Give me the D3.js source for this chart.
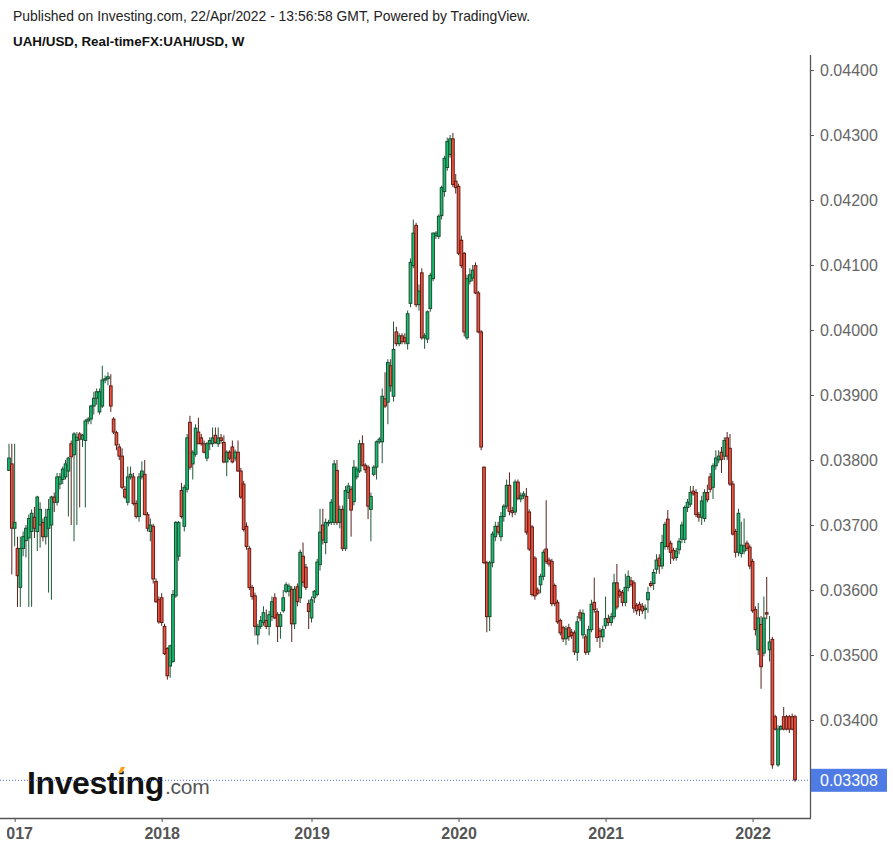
<!DOCTYPE html>
<html><head><meta charset="utf-8">
<script src="https://cdn.jsdelivr.net/npm/d3@7"></script>
<style>body{margin:0;background:#fff}svg{display:block}</style>
</head><body><svg id="c" width="893" height="851"></svg>
<script>
// Weekly UAH/USD candles, values in units of 0.00001 USD (e.g. 3784 = 0.03784)
const UNIT = 1e-5;
const openV = [3784,3794,3695,3664,3604,3664,3676,3680,3690,3712,3690,3700,3704,3682,3695,3700,3743,3735,3763,3770,3774,3783,3825,3808,3830,3840,3832,3830,3860,3863,3883,3895,3874,3883,3923,3925,3914,3863,3842,3820,3806,3755,3735,3774,3774,3733,3713,3774,3778,3716,3690,3698,3613,3585,3588,3544,3510,3483,3490,3591,3652,3753,3698,3755,3858,3794,3809,3843,3834,3825,3803,3825,3825,3838,3825,3834,3827,3797,3812,3820,3803,3812,3783,3763,3698,3664,3604,3591,3531,3544,3550,3553,3544,3559,3588,3562,3544,3568,3598,3598,3601,3548,3605,3588,3652,3635,3579,3557,3588,3593,3639,3700,3673,3704,3704,3704,3784,3704,3724,3664,3750,3755,3736,3774,3783,3825,3792,3789,3724,3778,3789,3828,3828,3894,3889,3945,3898,3997,3979,3991,3988,3979,4041,4099,4161,4039,4088,3988,3986,4033,4079,4145,4144,4176,4213,4250,4270,4294,4229,4221,4138,4118,3988,4075,4080,4099,4057,3997,3789,3642,3559,3642,3682,3698,3682,3713,3729,3761,3722,3720,3766,3740,3745,3744,3720,3697,3649,3600,3608,3621,3663,3646,3644,3607,3581,3553,3542,3525,3542,3535,3534,3504,3565,3531,3528,3505,3539,3581,3567,3537,3528,3545,3556,3550,3559,3611,3598,3596,3581,3604,3614,3611,3576,3578,3575,3570,3585,3610,3610,3632,3649,3637,3667,3709,3672,3661,3650,3662,3678,3678,3727,3732,3752,3750,3716,3712,3710,3750,3774,3758,3791,3800,3812,3806,3834,3818,3763,3690,3658,3656,3660,3672,3666,3644,3570,3508,3547,3503,3565,3508,3524,3405,3331,3386,3405,3405,3405,3405,3405];
const highV = [3825,3825,3825,3682,3682,3690,3700,3716,3724,3728,3745,3735,3710,3725,3740,3745,3750,3780,3780,3790,3800,3805,3830,3843,3843,3843,3840,3863,3866,3885,3905,3910,3910,3945,3930,3935,3932,3866,3845,3825,3818,3760,3790,3790,3780,3738,3780,3798,3800,3720,3710,3702,3618,3590,3595,3548,3512,3516,3600,3706,3706,3765,3762,3840,3868,3815,3855,3865,3840,3830,3828,3835,3850,3850,3850,3840,3838,3815,3815,3830,3816,3830,3788,3768,3704,3668,3608,3596,3548,3560,3575,3570,3568,3590,3595,3566,3566,3600,3612,3610,3606,3606,3610,3662,3673,3640,3585,3590,3600,3648,3725,3725,3710,3708,3740,3800,3800,3730,3730,3760,3765,3760,3800,3790,3831,3838,3795,3792,3750,3792,3830,3835,3910,3935,3955,3955,4013,4005,3995,3995,3995,4030,4110,4170,4165,4070,4095,3995,4030,4088,4150,4152,4178,4222,4268,4296,4300,4303,4240,4225,4145,4120,4085,4095,4100,4104,4060,4000,3790,3645,3645,3690,3705,3705,3720,3732,3770,3781,3728,3770,3770,3750,3752,3757,3724,3700,3652,3604,3625,3662,3738,3650,3648,3610,3585,3556,3545,3545,3548,3540,3538,3560,3570,3570,3532,3545,3585,3619,3572,3542,3545,3590,3562,3565,3625,3640,3602,3600,3625,3630,3620,3615,3580,3582,3580,3578,3605,3614,3632,3655,3655,3685,3705,3723,3676,3665,3665,3680,3705,3730,3740,3760,3760,3755,3720,3745,3755,3762,3780,3795,3815,3815,3820,3835,3843,3840,3768,3694,3725,3705,3710,3676,3670,3648,3575,3580,3560,3590,3620,3560,3528,3408,3392,3392,3420,3408,3408,3410,3408];
const lowV = [3784,3624,3667,3574,3574,3652,3650,3574,3574,3680,3660,3665,3675,3670,3596,3585,3720,3730,3755,3763,3770,3713,3700,3675,3700,3727,3820,3727,3855,3855,3870,3885,3870,3880,3918,3915,3874,3840,3815,3800,3755,3740,3730,3770,3730,3710,3705,3770,3715,3690,3675,3610,3580,3548,3545,3500,3462,3465,3488,3588,3645,3710,3690,3750,3785,3770,3805,3825,3822,3810,3798,3815,3820,3825,3820,3825,3795,3775,3800,3795,3798,3782,3740,3690,3662,3600,3585,3530,3516,3540,3545,3540,3530,3552,3555,3520,3525,3565,3595,3590,3520,3540,3575,3580,3605,3600,3540,3550,3580,3590,3630,3670,3655,3698,3700,3700,3700,3695,3660,3660,3740,3682,3730,3770,3780,3790,3780,3709,3675,3775,3770,3825,3795,3880,3855,3905,3890,3975,3975,3978,3978,3970,4035,4095,4035,4030,3985,3971,3980,4028,4075,4140,4140,4170,4205,4245,4265,4220,4210,4115,4095,3990,3985,4070,4075,4055,3995,3815,3640,3535,3537,3635,3675,3685,3675,3705,3725,3715,3712,3715,3738,3735,3740,3685,3660,3590,3585,3592,3595,3615,3640,3636,3575,3575,3548,3530,3520,3515,3522,3525,3500,3491,3552,3525,3500,3500,3535,3565,3520,3511,3520,3540,3545,3545,3555,3570,3588,3575,3575,3598,3605,3565,3562,3560,3563,3555,3565,3604,3600,3625,3625,3632,3662,3662,3640,3645,3645,3655,3672,3672,3720,3728,3745,3712,3705,3700,3705,3735,3750,3740,3785,3795,3780,3800,3800,3760,3684,3650,3652,3650,3655,3660,3632,3565,3530,3500,3448,3498,3555,3490,3325,3384,3328,3384,3384,3384,3380,3384,3305];
const closeV = [3803,3695,3704,3622,3664,3682,3695,3710,3718,3695,3743,3724,3682,3712,3724,3743,3735,3774,3774,3786,3794,3803,3805,3840,3835,3832,3838,3860,3863,3883,3895,3905,3905,3923,3925,3928,3883,3843,3823,3806,3758,3743,3774,3778,3733,3713,3774,3783,3716,3695,3700,3617,3582,3551,3550,3502,3468,3514,3593,3704,3704,3713,3758,3834,3789,3812,3849,3825,3825,3812,3825,3830,3834,3827,3834,3830,3797,3812,3803,3797,3812,3783,3743,3693,3667,3604,3590,3544,3544,3553,3565,3544,3562,3582,3557,3544,3562,3588,3608,3606,3548,3601,3582,3658,3612,3604,3567,3585,3598,3643,3689,3677,3704,3704,3735,3794,3704,3724,3664,3753,3760,3723,3789,3786,3825,3792,3785,3729,3744,3789,3828,3832,3898,3883,3950,3914,3970,3979,3991,3982,3982,4025,4104,4149,4039,4060,3988,3991,4028,4084,4149,4149,4175,4219,4264,4290,4294,4224,4219,4118,4099,3997,4079,4085,4092,4057,3997,3820,3642,3559,3642,3686,3698,3689,3713,3729,3761,3721,3719,3766,3741,3745,3748,3689,3663,3593,3591,3595,3621,3658,3644,3640,3579,3579,3551,3534,3525,3540,3528,3530,3505,3551,3557,3564,3504,3539,3578,3570,3527,3528,3539,3556,3550,3559,3611,3574,3592,3581,3604,3621,3608,3572,3568,3570,3568,3572,3596,3607,3627,3646,3637,3673,3701,3667,3658,3649,3660,3675,3700,3727,3735,3750,3748,3716,3712,3737,3750,3739,3755,3791,3803,3806,3801,3830,3806,3763,3686,3658,3718,3669,3668,3664,3637,3568,3539,3557,3482,3557,3563,3520,3331,3386,3386,3390,3386,3386,3386,3386,3308];

const firstWeekStart = "2016-12-19";          // Monday of first weekly bar
const yearTickIndex = [2, 54, 107, 159, 211, 263];
const yearLabels = ["2017", "2018", "2019", "2020", "2021", "2022"];
const priceTicks = [0.034, 0.035, 0.036, 0.037, 0.038, 0.039, 0.040, 0.041, 0.042, 0.043, 0.044];
const lastPrice = 0.03308;

const data = openV.map((o, i) => ({
  i, o: o * UNIT, h: highV[i] * UNIT, l: lowV[i] * UNIT, c: closeV[i] * UNIT
}));

const svg = d3.select("#c");
const W = 893, H = 851;
const plotRight = 810, plotBottom = 818, plotTop = 55;

const x = d3.scaleLinear().domain([0, data.length - 1]).range([9, 795]);
const y = d3.scaleLinear().domain([0.034, 0.044]).range([720, 70]);

svg.append("rect").attr("width", W).attr("height", H).attr("fill", "#fff");

// header
svg.append("text").attr("x", 13).attr("y", 21)
  .attr("font-family", "Liberation Sans, Arial, sans-serif").attr("font-size", 13.9)
  .attr("fill", "#222")
  .text("Published on Investing.com, 22/Apr/2022 - 13:56:58 GMT, Powered by TradingView.");
svg.append("text").attr("x", 13).attr("y", 46)
  .attr("font-family", "Liberation Sans, Arial, sans-serif").attr("font-size", 13.4)
  .attr("font-weight", "bold").attr("fill", "#111")
  .text("UAH/USD, Real-timeFX:UAH/USD, W");

// clip for plot
svg.append("clipPath").attr("id", "pc").append("rect")
  .attr("x", 0).attr("y", plotTop).attr("width", plotRight).attr("height", plotBottom - plotTop);

// logo
const logo = svg.append("g");
const inv = logo.append("text").attr("x", 27).attr("y", 794)
  .attr("font-family", "Liberation Sans, Arial, sans-serif").attr("font-size", 32)
  .attr("font-weight", "bold").attr("fill", "#111").attr("letter-spacing", -0.4)
  .text("Investing");
const invLen = inv.node().getComputedTextLength();
logo.append("text").attr("x", 27 + invLen + 1).attr("y", 794)
  .attr("font-family", "Liberation Sans, Arial, sans-serif").attr("font-size", 21)
  .attr("fill", "#555").attr("letter-spacing", -0.2).text(".com");
try {
  const ext = inv.node().getExtentOfChar(6);
  logo.append("path")
    .attr("d", `M${ext.x + 1},${ext.y + 8} L${ext.x + 4},${ext.y + 2} L${ext.x + 8},${ext.y + 2} L${ext.x + 5},${ext.y + 8} Z`)
    .attr("fill", "#f7a21b");
} catch (e) {}

// last price dotted line
svg.append("line").attr("x1", 0).attr("x2", plotRight).attr("y1", y(lastPrice) + 0.5).attr("y2", y(lastPrice) + 0.5)
  .attr("stroke", "#4a6fe3").attr("stroke-width", 1).attr("stroke-dasharray", "1,2");

// candles
const g = svg.append("g").attr("clip-path", "url(#pc)");
const up = d => d.c >= d.o;
g.selectAll("line.w").data(data).join("line").attr("class", "w")
  .attr("x1", d => x(d.i)).attr("x2", d => x(d.i))
  .attr("y1", d => y(d.h)).attr("y2", d => y(d.l))
  .attr("stroke", d => up(d) ? "#1f5a3a" : "#5a231d").attr("stroke-width", 1);
const bw = 2.7;
g.selectAll("rect.b").data(data).join("rect").attr("class", "b")
  .attr("x", d => x(d.i) - bw / 2)
  .attr("y", d => y(Math.max(d.o, d.c)))
  .attr("width", bw)
  .attr("height", d => Math.max(0.8, Math.abs(y(d.o) - y(d.c))))
  .attr("fill", d => up(d) ? "#14c072" : "#ef5441")
  .attr("stroke", d => up(d) ? "#1d4a30" : "#5e1c16")
  .attr("stroke-width", 1);

// axes lines
svg.append("line").attr("x1", plotRight + 0.5).attr("x2", plotRight + 0.5).attr("y1", plotTop).attr("y2", plotBottom)
  .attr("stroke", "#555").attr("stroke-width", 1.3);
svg.append("line").attr("x1", 0).attr("x2", plotRight + 1).attr("y1", plotBottom + 0.5).attr("y2", plotBottom + 0.5)
  .attr("stroke", "#555").attr("stroke-width", 1.3);

// right axis
const yAxis = d3.axisRight(y).tickValues(priceTicks).tickFormat(d3.format(".5f")).tickSize(4).tickPadding(6);
const ya = svg.append("g").attr("transform", `translate(${plotRight},0)`).call(yAxis);
ya.select(".domain").remove();
ya.selectAll(".tick line").attr("stroke", "#555");
ya.selectAll(".tick text").attr("font-family", "Liberation Sans, Arial, sans-serif")
  .attr("font-size", 16).attr("fill", "#666");

// bottom axis; the time scale starts just left of 2017, so that label is cut at the edge as in the source
svg.append("clipPath").attr("id", "xc").append("rect").attr("x", 7).attr("y", 800).attr("width", 886).attr("height", 51);
const xAxis = d3.axisBottom(x).tickValues(yearTickIndex).tickFormat((d, k) => yearLabels[k]).tickSize(4).tickPadding(6);
const xwrap = svg.append("g").attr("clip-path", "url(#xc)");
const xa = xwrap.append("g").attr("transform", `translate(0,${plotBottom})`).call(xAxis);
xa.select(".domain").remove();
xa.selectAll(".tick line").attr("stroke", "#555");
xa.selectAll(".tick text").attr("font-family", "Liberation Sans, Arial, sans-serif")
  .attr("font-size", 16).attr("font-weight", "bold").attr("fill", "#555");

// last price box
const ly = y(lastPrice);
svg.append("rect").attr("x", plotRight + 1).attr("y", ly - 11).attr("width", 76).attr("height", 23)
  .attr("fill", "#4f7be4");
svg.append("text").attr("x", 820).attr("y", ly + 1).attr("dy", "0.35em")
  .attr("font-family", "Liberation Sans, Arial, sans-serif").attr("font-size", 16).attr("fill", "#fff")
  .text(d3.format(".5f")(lastPrice));
</script>
</body></html>
